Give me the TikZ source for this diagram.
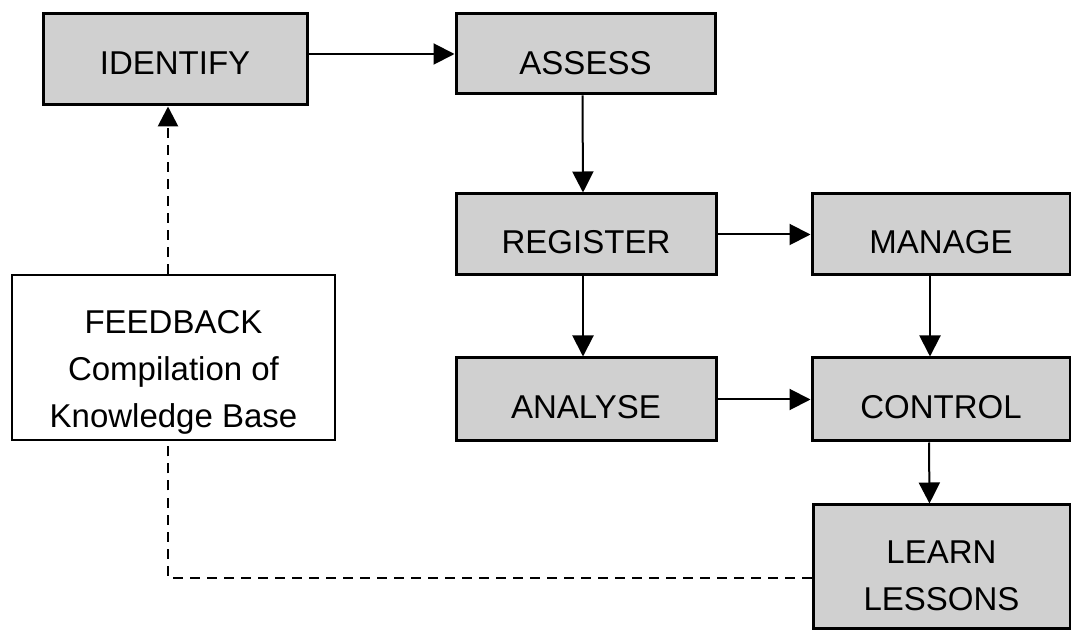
\documentclass[tikz,border=0pt]{standalone}
\usepackage{fontspec}
\setmainfont{Liberation Sans}
\usetikzlibrary{arrows.meta}
\definecolor{boxgray}{RGB}{208,208,208}
\tikzset{
  box/.style={draw=black, line width=1.5pt, fill=boxgray, rectangle, inner sep=0pt,
    font=\fontsize{16.5}{23.5}\selectfont, text height=18.8pt, text depth=0pt},
  fbbox/.style={draw=black, line width=1.2pt, fill=white, rectangle, inner sep=0pt,
    font=\fontsize{16.5}{23.5}\selectfont},
  arr/.style={line width=1pt, -{Triangle[length=10.5pt,width=10.5pt]}},
  fbline/.style={line width=1.4pt, dash pattern=on 5pt off 3.5pt},
}
\begin{document}
\begin{tikzpicture}[x=0.5pt,y=-0.5pt]
\useasboundingbox (0,0) rectangle (1071,630);
\node[box, minimum width=132pt, minimum height=45.5pt, text height=14.8pt] (identify) at (175,59.5) {IDENTIFY};
\node[box, minimum width=129.5pt, minimum height=40pt, text height=21pt] (assess) at (585.5,54) {ASSESS};
\node[box, minimum width=130pt, minimum height=40.5pt] (register) at (586,234.5) {REGISTER};
\node[box, minimum width=129pt, minimum height=40.5pt] (manage) at (941,234.5) {MANAGE};
\node[box, minimum width=130pt, minimum height=41.5pt] (analyse) at (586,399.5) {ANALYSE};
\node[box, minimum width=129pt, minimum height=41.5pt] (control) at (941,399.5) {CONTROL};
\node[box, minimum width=128.5pt, minimum height=61.5pt, text height=43.7pt] (learn) at (941.5,566.5)
  {\begin{tabular}[b]{@{}c@{}}LEARN\\LESSONS\end{tabular}};
\node[fbbox, minimum width=161.5pt, minimum height=82.5pt, text height=69.7pt, text depth=0pt] (feedback) at (173.5,357.5)
  {\begin{tabular}[b]{@{}c@{}}FEEDBACK\\Compilation of\\Knowledge Base\end{tabular}};
\coordinate (corner) at (168,578);
\draw[arr] (identify.east |- assess.west) -- (assess.west);
\draw[arr] ([xshift=-1.5pt]assess.south) -- ([xshift=-1.5pt]register.north);
\draw[arr] (register.east) -- (manage.west);
\draw[arr] ([xshift=-1.5pt]register.south) -- ([xshift=-1.5pt]analyse.north);
\draw[arr] ([xshift=-5.5pt]manage.south) -- ([xshift=-5.5pt]control.north);
\draw[arr] (analyse.east) -- (control.west);
\draw[arr] ([xshift=-6pt]control.south) -- ([xshift=-6pt]learn.north);
\draw[fbline] (learn.west |- corner) -- (corner) -- (corner |- feedback.south);
\draw[fbline, -{Triangle[length=10pt,width=10pt]}] (corner |- feedback.north) -- (corner |- identify.south);
\end{tikzpicture}
\end{document}
